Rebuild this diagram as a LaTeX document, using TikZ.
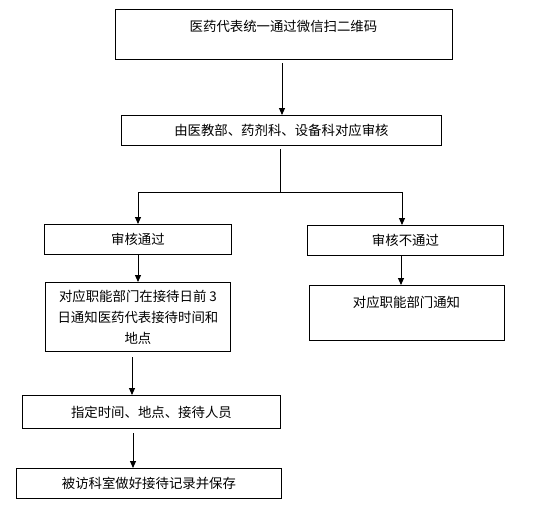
\documentclass[tikz,border=0pt]{standalone}
\usepackage{fontspec}
\newfontfamily\cjk{Noto Sans CJK SC}
\usetikzlibrary{arrows.meta}
\tikzset{
  box/.style={draw=black, line width=0.9pt, rectangle, inner sep=0pt},
  txt/.style={font=\cjk\fontsize{13.4}{21}\selectfont, inner sep=0pt, align=center, text=black},
  arr/.style={draw=black, line width=0.9pt, -{Triangle[length=7pt,width=6pt]}},
  ln/.style={draw=black, line width=0.9pt}
}
\begin{document}
\begin{tikzpicture}[x=1pt,y=-1pt]
\useasboundingbox (0,0) rectangle (542,517);
% boxes
\node[box, minimum width=337, minimum height=50, anchor=north west] (b1) at (115,9) {};
\node[txt] (t1) at (283.5,26) {医药代表统一通过微信扫二维码};
\node[box, minimum width=320, minimum height=30, anchor=north west] (b2) at (121,115) {};
\node[txt] (t2) at (b2.center) {由医教部、药剂科、设备科对应审核};
\node[box, minimum width=187, minimum height=30, anchor=north west] (b3) at (44,224) {};
\node[txt] (t3) at (b3.center) {审核通过};
\node[box, minimum width=196, minimum height=30, anchor=north west] (b4) at (307,225) {};
\node[txt] (t4) at (b4.center) {审核不通过};
\node[box, minimum width=185, minimum height=69, anchor=north west] (b5) at (45,282) {};
\node[txt] (t5) at (b5.center) {对应职能部门在接待日前 3\\日通知医药代表接待时间和\\地点};
\node[box, minimum width=195, minimum height=55, anchor=north west] (b6) at (309,285) {};
\node[txt] (t6) at (406.5,302) {对应职能部门通知};
\node[box, minimum width=258, minimum height=33, anchor=north west] (b7) at (22,395) {};
\node[txt] (t7) at (b7.center) {指定时间、地点、接待人员};
\node[box, minimum width=265, minimum height=30, anchor=north west] (b8) at (16,468) {};
\node[txt] (t8) at (b8.center) {被访科室做好接待记录并保存};
% connectors
\coordinate (a1) at (282,63);
\draw[arr] (a1) -- (b2.north -| a1);
\coordinate (s) at (280,149);
\coordinate (j) at (280,192);
\coordinate (jl) at (138,192);
\coordinate (jr) at (402,192);
\draw[ln] (s) -- (j);
\draw[ln] (jl) -- (jr);
\draw[arr] (jl) -- (b3.north -| jl);
\draw[arr] (jr) -- (b4.north -| jr);
\draw[arr] (b3.south -| jl) -- (b5.north -| jl);
\draw[arr] (b4.south -| 401,0) -- (b6.north -| 401,0);
\coordinate (c1) at (132,357);
\draw[arr] (c1) -- (b7.north -| c1);
\coordinate (c2) at (133,433);
\draw[arr] (c2) -- (b8.north -| c2);
\end{tikzpicture}
\end{document}
